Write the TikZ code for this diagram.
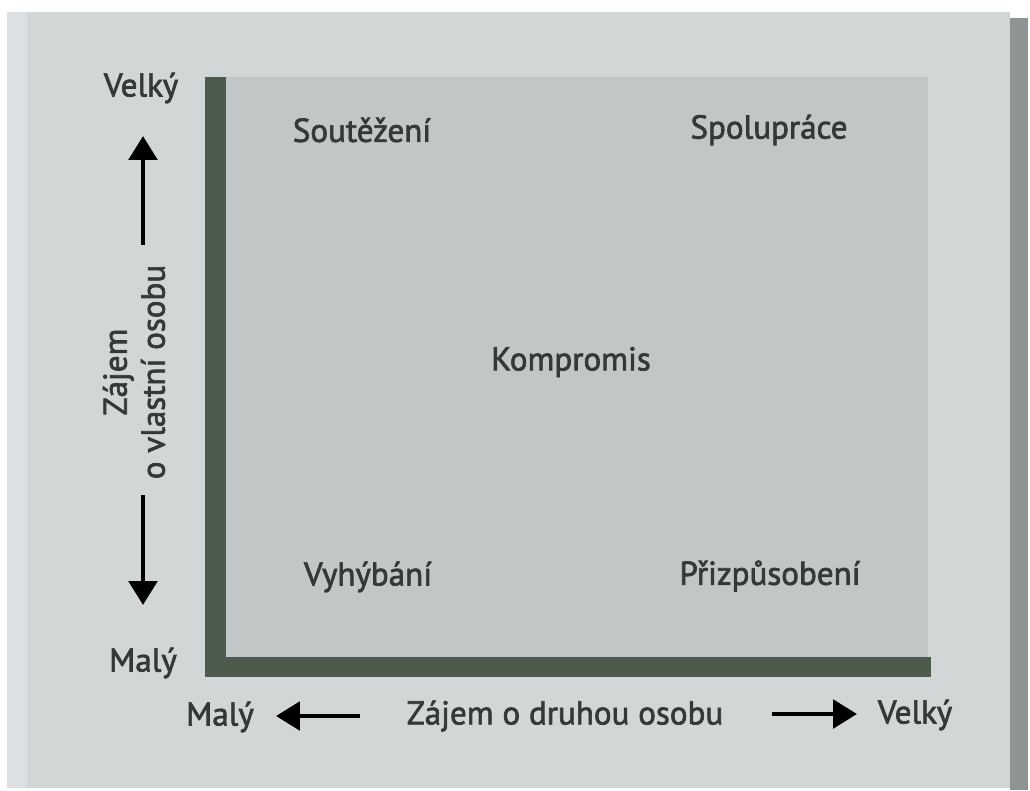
\documentclass[tikz,border=0pt]{standalone}
\usepackage{fontspec}
\setmainfont{PT Sans}[FakeBold=2]
\usetikzlibrary{arrows.meta}
\definecolor{pagebg}{HTML}{D3D6D7}
\definecolor{edgebg}{HTML}{DDE0E3}
\definecolor{spine}{HTML}{8D9493}
\definecolor{fieldbg}{HTML}{C2C6C7}
\definecolor{axis}{HTML}{4D5B4D}
\definecolor{ink}{HTML}{333838}
\tikzset{
  lbl/.style = {text=ink, inner sep=0pt, font=\fontsize{23.5}{27}\selectfont},
  arr/.style = {line width=3.5pt, -{Triangle[width=20pt,length=17pt]}},
}

\begin{document}
\begin{tikzpicture}[x=0.025cm, y=-0.025cm]
  % page
  \fill[white] (0,0) rectangle (1030,790);
  \fill[pagebg] (7,12) rectangle (1010,788);
  \fill[edgebg] (7,12) rectangle (27,788);
  \fill[spine] (1010,18) rectangle (1028,790);
  % field and axes
  \fill[fieldbg] (215,77) rectangle (928,668);
  \fill[axis] (205,77) rectangle (226,677);
  \fill[axis] (205,657) rectangle (931,677);
  % quadrants
  \node[lbl] (compete) at (362,130) {Soutěžení};
  \node[lbl] (collab) at (769,130) {Spolupráce};
  \node[lbl] (compro) at (571,362) {Kompromis};
  \node[lbl] (avoid) at (368,577) {Vyhýbání};
  \node[lbl] (accom) at (770,576) {Přizpůsobení};
  % vertical axis
  \node[lbl] (ytop) at (141,88) {Velký};
  \node[lbl] (ybot) at (143,663) {Malý};
  \node[lbl, rotate=90, align=center] (ylab) at (134,372) {Zájem\\o vlastní osobu};
  \coordinate (upfrom) at (143,245);
  \coordinate (upto) at (143,136);
  \coordinate (dnfrom) at (143,495);
  \coordinate (dnto) at (143,605);
  \draw[arr] (upfrom) -- (upto);
  \draw[arr] (dnfrom) -- (dnto);
  % horizontal axis
  \node[lbl] (xleft) at (220,717) {Malý};
  \node[lbl] (xlab) at (565,716) {Zájem o druhou osobu};
  \node[lbl] (xright) at (915,715) {Velký};
  \coordinate (lfrom) at (360,716);
  \coordinate (lto) at (276,716);
  \coordinate (rfrom) at (772,714);
  \coordinate (rto) at (857,714);
  \draw[arr] (lfrom) -- (lto);
  \draw[arr] (rfrom) -- (rto);
\end{tikzpicture}
\end{document}
